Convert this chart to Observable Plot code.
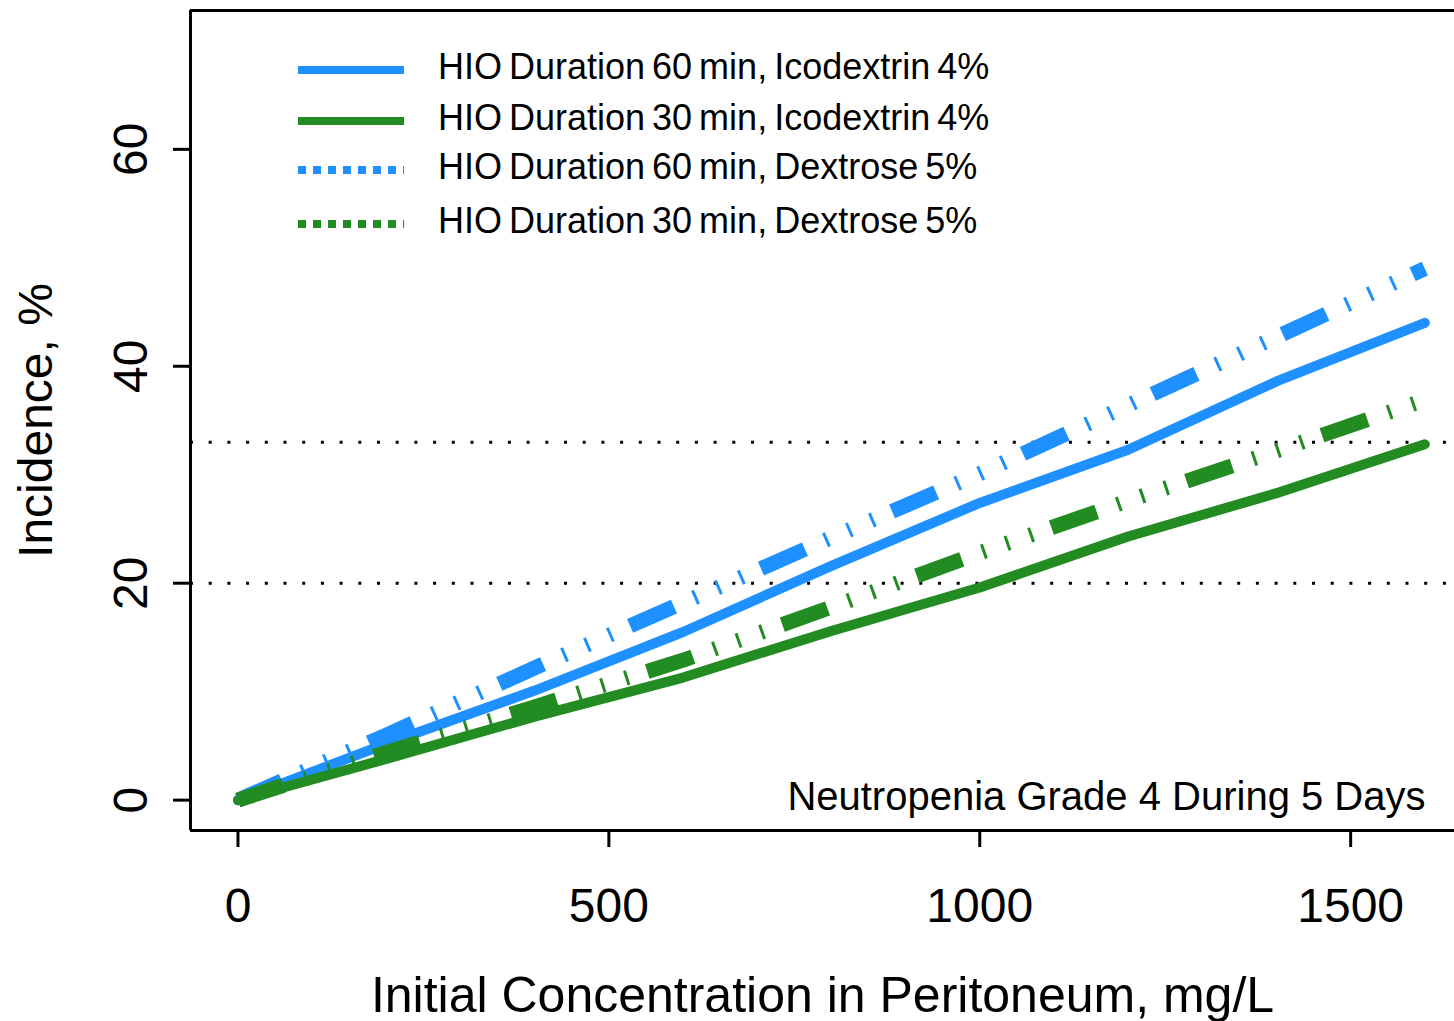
<!DOCTYPE html>
<html><head><meta charset="utf-8">
<script src="https://cdn.jsdelivr.net/npm/d3@7"></script>
<script src="https://cdn.jsdelivr.net/npm/@observablehq/plot@0.6"></script>
<style>
html,body{margin:0;padding:0;background:#fff;overflow:hidden;}
#wrap{position:relative;width:1454px;height:1021px;}
#legend{position:absolute;left:0;top:0;width:1454px;height:0;font-family:"Liberation Sans",Arial,sans-serif;}
.lg-item{position:absolute;left:298px;height:0;}
.lg-text{position:absolute;left:140px;white-space:nowrap;font-size:36px;word-spacing:-3px;color:#000;line-height:1;transform:translateY(-50%);}
.lg-swatch{position:absolute;left:0;top:-6px;}
</style></head><body>
<div id="wrap"><div id="chart"></div><div id="legend"></div></div>
<script>
// ---- data ----
const concentration = [0, 200, 400, 600, 800, 1000, 1200, 1400, 1600];
const hio60Icodextrin = [0, 5.2, 10.1, 15.5, 21.6, 27.4, 32.3, 38.6, 44.0];
const hio30Icodextrin = [0, 3.8, 7.7, 11.3, 15.6, 19.6, 24.3, 28.3, 32.8];
const hio60Dextrose = [0, 6.0, 12.2, 18.2, 24.2, 30.1, 36.4, 42.7, 49.0];
const hio30Dextrose = [0, 4.4, 8.6, 12.9, 17.8, 22.8, 27.6, 32.2, 36.9];
const seriesNames = [
  "HIO Duration 60 min, Icodextrin 4%",
  "HIO Duration 30 min, Icodextrin 4%",
  "HIO Duration 60 min, Dextrose 5%",
  "HIO Duration 30 min, Dextrose 5%"
];
const seriesColors = ["#1E90FF", "#228B22", "#1E90FF", "#228B22"];
const seriesSolution = ["Icodextrin", "Icodextrin", "Dextrose", "Dextrose"];
const referenceLevels = [20, 33];
const xTicks = [0, 500, 1000, 1500];
const yTicks = [0, 20, 40, 60];
const annotation = ["Neutropenia Grade 4 During 5 Days"];
const xLabel = "Initial Concentration in Peritoneum, mg/L";
const yLabel = "Incidence, %";

const seriesValues = [hio60Icodextrin, hio30Icodextrin, hio60Dextrose, hio30Dextrose];
const rows = seriesValues.flatMap((vals, i) =>
  concentration.map((c, j) => ({series: seriesNames[i], solution: seriesSolution[i], x: c, y: vals[j]})));

const xDomain = [-64, 1640];
const yDomain = [-2.8, 72.8];
const font = "Liberation Sans, Arial, sans-serif";

const chart = Plot.plot({
  width: 1454, height: 1021,
  marginLeft: 190, marginRight: 0, marginTop: 10, marginBottom: 191,
  style: {fontFamily: font, background: "white", overflow: "hidden", color: "black"},
  x: {domain: xDomain},
  y: {domain: yDomain},
  color: {domain: seriesNames, range: seriesColors},
  marks: [
    Plot.ruleY(referenceLevels, {stroke: "black", strokeWidth: 3, strokeDasharray: "3,15.7"}),
    Plot.line(rows.filter(d => d.solution === "Icodextrin"), {
      x: "x", y: "y", z: "series", stroke: "series", strokeWidth: 10,
      strokeLinecap: "round", strokeLinejoin: "round"
    }),
    Plot.line(rows.filter(d => d.solution === "Dextrose"), {
      x: "x", y: "y", z: "series", stroke: "series", strokeWidth: 15,
      strokeLinecap: "butt", strokeLinejoin: "round",
      strokeDasharray: "48,22,3,22,3,22,3,20", strokeDashoffset: 0
    }),
    Plot.text(annotation, {
      text: d => d, frameAnchor: "bottom-right", dx: -29, dy: -33,
      textAnchor: "end", lineAnchor: "middle", fontSize: 40, fill: "black"
    }),
    Plot.ruleY([yDomain[0], yDomain[1]], {stroke: "black", strokeWidth: 3}),
    Plot.ruleX([xDomain[0]], {stroke: "black", strokeWidth: 3}),
    Plot.axisX({
      ticks: xTicks, tickFormat: d => String(d), tickSize: 17, tickPadding: 40,
      fontSize: 48, strokeWidth: 3, label: null
    }),
    Plot.axisX({
      ticks: [], label: xLabel, labelAnchor: "center", fontSize: 50,
      labelOffset: 181, labelArrow: "none"
    }),
    Plot.axisY({
      ticks: yTicks, tickFormat: d => String(d), tickSize: 17, tickPadding: 27,
      tickRotate: -90, fontSize: 48, strokeWidth: 3, label: yLabel,
      labelAnchor: "center", labelOffset: 173, labelArrow: "none"
    })
  ]
});
document.getElementById("chart").appendChild(chart);

// ---- legend (HTML overlay) ----
const legendRowsY = [70, 121, 170, 224];
const legend = d3.select("#legend");
seriesNames.forEach((name, i) => {
  const item = legend.append("div").attr("class", "lg-item").style("top", legendRowsY[i] + "px");
  const sw = item.append("svg").attr("class", "lg-swatch").attr("width", 106).attr("height", 12);
  sw.append("line").attr("x1", 0).attr("x2", 106).attr("y1", 6).attr("y2", 6)
    .attr("stroke", seriesColors[i]).attr("stroke-width", 8)
    .attr("stroke-dasharray", seriesSolution[i] === "Dextrose" ? "8,7" : null);
  item.append("div").attr("class", "lg-text").style("top", "-3px").text(name);
});
</script>
</body></html>
